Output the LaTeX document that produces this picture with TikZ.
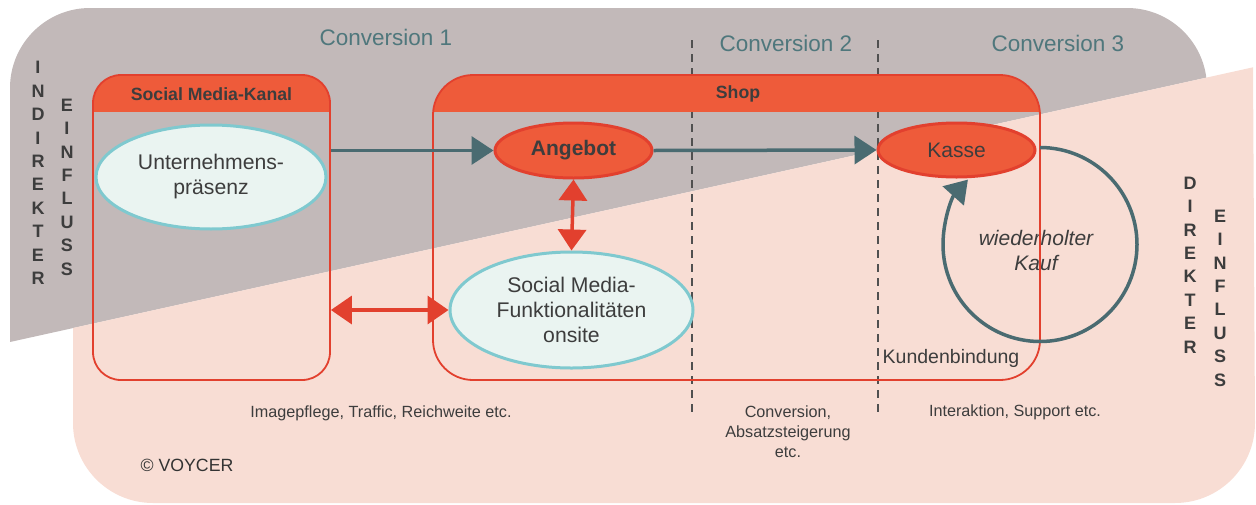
\documentclass[tikz,border=0pt]{standalone}
\usepackage{fontspec}
\setmainfont{Liberation Sans}
\usetikzlibrary{shapes.geometric,arrows.meta}
\definecolor{bggrey}{HTML}{C2B9B9}
\definecolor{pinkc}{HTML}{F8DDD4}
\definecolor{orangec}{HTML}{EE5B3A}
\definecolor{redl}{HTML}{E2402E}
\definecolor{tealc}{HTML}{4A6B71}
\definecolor{elf}{HTML}{EAF4F1}
\definecolor{elb}{HTML}{7FC9CF}
\definecolor{textc}{HTML}{3D3D3D}
\definecolor{convc}{HTML}{4F777C}
\definecolor{sepc}{HTML}{505050}
\begin{document}
\begin{tikzpicture}[x=1pt,y=-1pt,
  txt/.style={inner sep=0pt, text=textc, align=center},
  small/.style={txt, font=\fontsize{16.2}{20}\selectfont},
  conv/.style={inner sep=0pt, text=convc, font=\fontsize{22.5}{27}\selectfont},
  vert/.style={txt, font=\fontsize{18}{23.4}\selectfont\bfseries},
  hdrtext/.style={txt, font=\fontsize{17.7}{20}\selectfont\bfseries},
  lightell/.style={ellipse, draw=elb, line width=3pt, fill=elf, text=textc, align=center, font=\fontsize{21.2}{25}\selectfont, inner sep=0pt},
  orell/.style={ellipse, draw=redl, line width=3pt, fill=orangec, text=textc, font=\fontsize{21}{25}\selectfont, inner sep=0pt},
  boxc/.style={draw=redl, line width=1.8pt, inner sep=0pt},
  sepline/.style={draw=sepc, line width=1.5pt, dash pattern=on 8pt off 6pt},
  tealarr/.style={draw=tealc, line width=3.5pt, -{Triangle[length=22pt,width=28pt]}},
  redarr/.style={draw=redl, line width=3.5pt, {Triangle[length=21pt,width=28pt]}-{Triangle[length=21pt,width=28pt]}}
]
\useasboundingbox (0,0) rectangle (1256,504);
% grey background (indirect)
\begin{scope}
  \clip (0,0) -- (1256,0) -- (1256,66.7) -- (0,344.2) -- cycle;
  \fill[bggrey, rounded corners=80pt] (10,8) rectangle (1207,420);
\end{scope}
% pink background (direct)
\fill[pinkc] (1253,67.3) -- (73,328) -- (73,423) arc[start angle=180,end angle=90,radius=80]
  -- (1175,503) arc[start angle=90,end angle=0,radius=80] -- cycle;
% separators
\coordinate (s1t) at (692,40); \coordinate (s1b) at (692,417);
\coordinate (s2t) at (878,40); \coordinate (s2b) at (878,417);
\draw[sepline] (s1t) -- (s1b);
\draw[sepline] (s2t) -- (s2b);
% headers
\begin{scope}
  \clip (88,70) rectangle (335,111);
  \fill[orangec, rounded corners=28pt] (93,75) rectangle (330,380);
\end{scope}
\begin{scope}
  \clip (428,70) rectangle (1045,111);
  \fill[orangec, rounded corners=40pt] (433,75) rectangle (1040,380);
\end{scope}
\node[hdrtext] (hsmk) at (211.5,94) {Social Media-Kanal};
\node[hdrtext] (hshop) at (738,94) {Shop};
% conversion labels
\node[conv] (c1) at (386,37) {Conversion 1};
\node[conv] (c2) at (786,43) {Conversion 2};
\node[conv] (c3) at (1058,43) {Conversion 3};
% vertical labels
\node[vert] (v1) at (38,173) {I\\N\\D\\I\\R\\E\\K\\T\\E\\R};
\node[vert] (v2) at (67,187) {E\\I\\N\\F\\L\\U\\S\\S};
\node[vert] (v3) at (1190,265) {D\\I\\R\\E\\K\\T\\E\\R};
\node[vert] (v4) at (1220,298) {E\\I\\N\\F\\L\\U\\S\\S};
% bottom labels
\node[small] (t1) at (381,413) {Imagepflege, Traffic, Reichweite etc.};
\node[small] (t2) at (788,432) {Conversion,\\Absatzsteigerung\\etc.};
\node[small] (t3) at (1015,412) {Interaktion, Support etc.};
\node[txt, font=\fontsize{19.5}{22}\selectfont] (kb) at (951,358) {Kundenbindung};
\node[txt, font=\fontsize{21}{25}\selectfont\itshape] (wk) at (1036,250.5) {wiederholter\\Kauf};
\node[txt, text=black!80, font=\fontsize{17.7}{20}\selectfont] (cp) at (187,465) {© VOYCER};
% ellipses
\node[lightell, minimum width=230pt, minimum height=104pt] (up) at (211,177) {Unternehmens-\\präsenz};
\node[lightell, minimum width=243pt, minimum height=116pt] (smf) at (571.5,310) {Social Media-\\Funktionalitäten\\onsite};
\node[orell, minimum width=157pt, minimum height=55pt, font=\fontsize{21}{25}\selectfont\bfseries] (ang) at (573.5,150.5) {Angebot};
\node[orell, minimum width=157pt, minimum height=54pt] (kasse) at (956.5,150) {Kasse};
% box outlines
\node[boxc, rounded corners=28pt, minimum width=237pt, minimum height=305pt] (smk) at (211.5,227.5) {};
\node[boxc, rounded corners=40pt, minimum width=607pt, minimum height=305pt] (shop) at (736.5,227.5) {};
% connectors
\draw[tealarr] (smk.east |- ang.west) -- (ang.west);
\draw[tealarr] (ang.east) -- (kasse.west);
\draw[redarr] (ang.south) -- (smf.north);
\draw[redarr] (smk.east |- smf.west) -- (smf.west);
\coordinate (looptop) at (1040,147.5);
\draw[tealarr] (looptop) arc[start angle=-90,end angle=222,radius=97];
\end{tikzpicture}
\end{document}
